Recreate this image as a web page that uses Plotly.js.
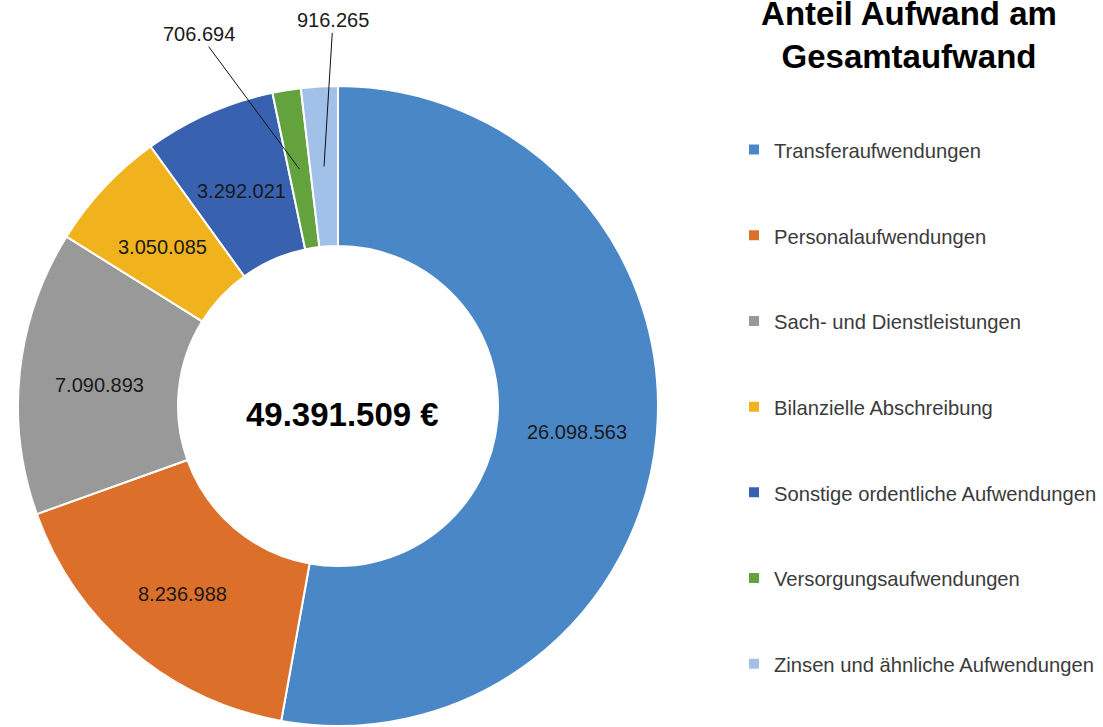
<!DOCTYPE html>
<html>
<head>
<meta charset="utf-8">
<script src="https://cdn.plot.ly/plotly-3.0.1.min.js"></script>
<style>html,body{margin:0;padding:0;background:#fff;overflow:hidden}</style>
</head>
<body>
<div id="chart" style="width:1103px;height:727px"></div>
<script>
const categories = ['Transferaufwendungen','Personalaufwendungen','Sach- und Dienstleistungen','Bilanzielle Abschreibung','Sonstige ordentliche Aufwendungen','Versorgungsaufwendungen','Zinsen und ähnliche Aufwendungen'];
const values = [26098563, 8236988, 7090893, 3050085, 3292021, 706694, 916265];
const colors = ['#4a87c6','#dc6f2a','#999999','#f0b31e','#3862b0','#64a23e','#a2c1e8'];
const outsideLabelIdx = [5, 6];            // small slices labelled outside with leader lines
const outsideOffsets = [[-100, -135], [9, -146]];

const fmt = v => String(v).replace(/\B(?=(\d{3})+(?!\d))/g, '.');

const W = 1103, H = 727;
const CX = 338, CY = 406, R = 320, HOLE = 0.5;
const FONT = 'Liberation Sans, Arial, sans-serif';

const total = values.reduce((a, b) => a + b, 0);

const trace = {
  type: 'pie',
  labels: categories.map(c => ' <br><span style="font-size:20.2px">' + c + '</span><br> '),
  values: values,
  textinfo: 'none',
  hole: HOLE,
  sort: false,
  direction: 'clockwise',
  rotation: 0,
  marker: {colors: colors, line: {color: '#ffffff', width: 2}},
  domain: {x: [(CX - R) / W, (CX + R) / W], y: [(H - CY - R) / H, (H - CY + R) / H]},
  hoverinfo: 'skip'
};

// value labels positioned at the middle of each ring sector, computed from the data
const annotations = [];
let cum = 0;
const mids = values.map(v => { const m = (cum + v / 2) / total; cum += v; return m; });
const rr = R * (1 + HOLE) / 2;
values.forEach((v, i) => {
  const th = mids[i] * 2 * Math.PI;
  const px = CX + rr * Math.sin(th), py = CY - rr * Math.cos(th);
  const k = outsideLabelIdx.indexOf(i);
  if (k >= 0) {
    annotations.push({
      xref: 'paper', yref: 'paper', x: px / W, y: 1 - py / H,
      text: fmt(v), showarrow: true, arrowhead: 0, arrowwidth: 1, arrowcolor: '#111',
      ax: outsideOffsets[k][0], ay: outsideOffsets[k][1],
      font: {family: FONT, size: 20, color: '#1a1a1a'}
    });
  } else {
    annotations.push({
      xref: 'paper', yref: 'paper', x: px / W, y: 1 - py / H,
      xanchor: 'center', yanchor: 'middle', yshift: -5,
      text: fmt(v), showarrow: false,
      font: {family: FONT, size: 20, color: '#1a1a1a'}
    });
  }
});
annotations.push({
  xref: 'paper', yref: 'paper', x: (CX + 4) / W, y: 1 - (CY + 8) / H,
  xanchor: 'center', yanchor: 'middle',
  text: '<b>' + fmt(total) + ' €</b>', showarrow: false,
  font: {family: FONT, size: 33, color: '#000'}
});

const layout = {
  width: W, height: H,
  margin: {l: 0, r: 0, t: 0, b: 0, autoexpand: false},
  paper_bgcolor: '#fff',
  title: {
    text: '<b>Anteil Aufwand am<br>Gesamtaufwand</b>',
    font: {family: FONT, size: 33, color: '#000'},
    x: 909 / W, xanchor: 'center', xref: 'paper',
    y: 0.9655, yanchor: 'top', yref: 'container', pad: {t: 0}
  },
  showlegend: true,
  legend: {
    x: 734 / W, xanchor: 'left', y: 0.86, yanchor: 'top',
    font: {family: FONT, size: 21.2, color: '#3b3b3b'},
    bgcolor: 'rgba(0,0,0,0)', traceorder: 'normal'
  },
  annotations: annotations
};

Plotly.newPlot('chart', [trace], layout, {displayModeBar: false, staticPlot: true});
</script>
</body>
</html>
